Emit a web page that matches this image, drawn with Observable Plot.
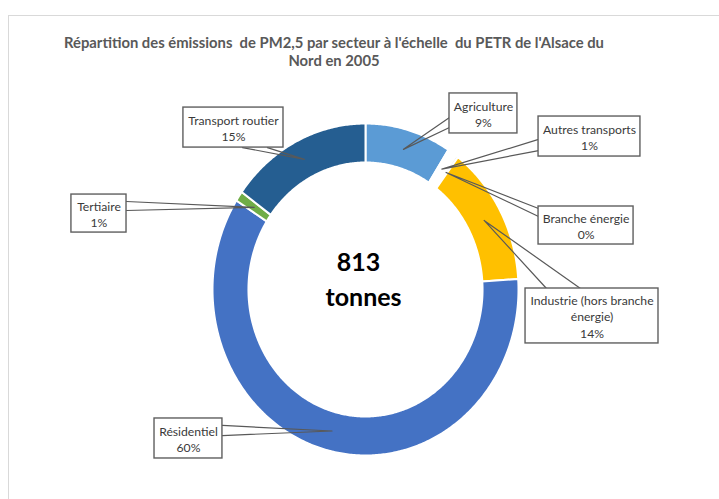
<!DOCTYPE html>
<html>
<head>
<meta charset="utf-8">
<script src="https://cdn.jsdelivr.net/npm/d3@7"></script>
<script src="https://cdn.jsdelivr.net/npm/@observablehq/plot@0.6"></script>
<style>
  html, body { margin: 0; padding: 0; width: 719px; height: 499px; overflow: hidden; background: #fff; }
  #frame { position: absolute; left: 8px; top: 15px; width: 900px; height: 700px; border: 1px solid #d9d9d9; box-sizing: border-box; }
  #title { position: absolute; left: 0; top: 33px; width: 668px; text-align: center;
           font-family: Lato, "Open Sans", sans-serif; font-weight: bold;
           font-size: 14.8px; line-height: 18px; color: #595959; white-space: pre; }
  #chart { position: absolute; left: 0; top: 80px; }
</style>
</head>
<body>
<div id="frame"></div>
<div id="title">Répartition des émissions  de PM2,5 par secteur à l'échelle  du PETR de l'Alsace du
Nord en 2005</div>
<div id="chart"></div>
<script>
// ---- data ----
const sectors = ["Agriculture", "Autres transports", "Branche énergie", "Industrie", "Résidentiel", "Tertiaire", "Transport routier"];
const sectorLabels = ["Agriculture", "Autres transports", "Branche énergie", "Industrie (hors branche\nénergie)", "Résidentiel", "Tertiaire", "Transport routier"];
const tonnes = [74, 8, 2, 111, 488, 8, 122];
const sectorColors = ["#5B9BD5", "#FFFFFF", "#E6E6E6", "#FFC000", "#4472C4", "#70AD47", "#255E91"];
const unitLabel = "tonnes";

// ---- layout (chart unit coordinates: ring outer radius = 1) ----
const innerR = 0.765, outerR = 1, leaderR = 0.88;
const calloutLayout = [
  {box: [0.549, 0.993, 0.940, 1.181], base: [[0.549, 1.036], [0.549, 0.976]]},
  {box: [1.131, 1.797, 0.801, 1.042], base: [[1.131, 0.904], [1.131, 0.837]]},
  {box: [1.131, 1.752, 0.271, 0.500], base: [[1.131, 0.488], [1.131, 0.440]]},
  {box: [1.046, 1.915, -0.325, 0.006], base: [[1.183, 0.006], [1.405, 0.006]]},
  {box: [-1.379, -0.935, -1.018, -0.777], base: [[-0.935, -0.819], [-0.935, -0.880]]},
  {box: [-1.922, -1.562, 0.343, 0.572], base: [[-1.562, 0.530], [-1.562, 0.476]]},
  {box: [-1.190, -0.536, 0.855, 1.096], base: [[-0.804, 0.855], [-0.641, 0.855]]}
];

const total = d3.sum(tonnes);
const arcs = d3.pie().sort(null).value(d => d)(tonnes);

// ring polygons
const ring = [];
arcs.forEach((a, i) => {
  const n = Math.max(2, Math.ceil((a.endAngle - a.startAngle) / 0.01));
  for (let k = 0; k <= n; k++) {
    const t = a.startAngle + (a.endAngle - a.startAngle) * k / n;
    ring.push({sector: sectors[i], x: outerR * Math.sin(t), y: outerR * Math.cos(t)});
  }
  for (let k = n; k >= 0; k--) {
    const t = a.startAngle + (a.endAngle - a.startAngle) * k / n;
    ring.push({sector: sectors[i], x: innerR * Math.sin(t), y: innerR * Math.cos(t)});
  }
});

// leaders (wedge callouts)
const leaders = [];
const boxes = [];
arcs.forEach((a, i) => {
  const m = (a.startAngle + a.endAngle) / 2;
  const tip = [leaderR * Math.sin(m), leaderR * Math.cos(m)];
  const L = calloutLayout[i];
  leaders.push({id: i, x: L.base[0][0], y: L.base[0][1]});
  leaders.push({id: i, x: tip[0], y: tip[1]});
  leaders.push({id: i, x: L.base[1][0], y: L.base[1][1]});
  boxes.push({
    x1: L.box[0], x2: L.box[1], y1: L.box[2], y2: L.box[3],
    cx: (L.box[0] + L.box[1]) / 2, cy: (L.box[2] + L.box[3]) / 2,
    text: `${sectorLabels[i]}\n${Math.round(tonnes[i] / total * 100)}%`
  });
});

const font = 'Lato, "Open Sans", sans-serif';

const chart = Plot.plot({
  width: 719,
  height: 419,
  margin: 0,
  style: {fontFamily: font, background: "transparent", overflow: "visible"},
  x: {domain: [-1, 1], range: [212, 518], axis: null},
  y: {domain: [-1, 1], range: [375, 43], axis: null},
  color: {domain: sectors, range: sectorColors},
  marks: [
    Plot.line(ring, {x: "x", y: "y", z: "sector", fill: "sector", stroke: "white", strokeWidth: 2, curve: "linear-closed"}),
    Plot.line(leaders, {x: "x", y: "y", z: "id", stroke: "#595959", strokeWidth: 1.2, curve: "linear"}),
    Plot.rect(boxes, {x1: "x1", x2: "x2", y1: "y1", y2: "y2", fill: "white", stroke: "#5f5f5f", strokeWidth: 1.4}),
    Plot.text(boxes, {x: "cx", y: "cy", text: "text", fontSize: 12.2, lineHeight: 1.35, fill: "#3a3a3a"}),
    Plot.text([String(total)], {x: -0.045, y: 0.157, text: d => d, fontSize: 25, fontWeight: "bold", fill: "#000"}),
    Plot.text([unitLabel], {x: -0.013, y: -0.054, text: d => d, fontSize: 25, fontWeight: "bold", fill: "#000"})
  ]
});
document.getElementById("chart").appendChild(chart);
</script>
</body>
</html>
